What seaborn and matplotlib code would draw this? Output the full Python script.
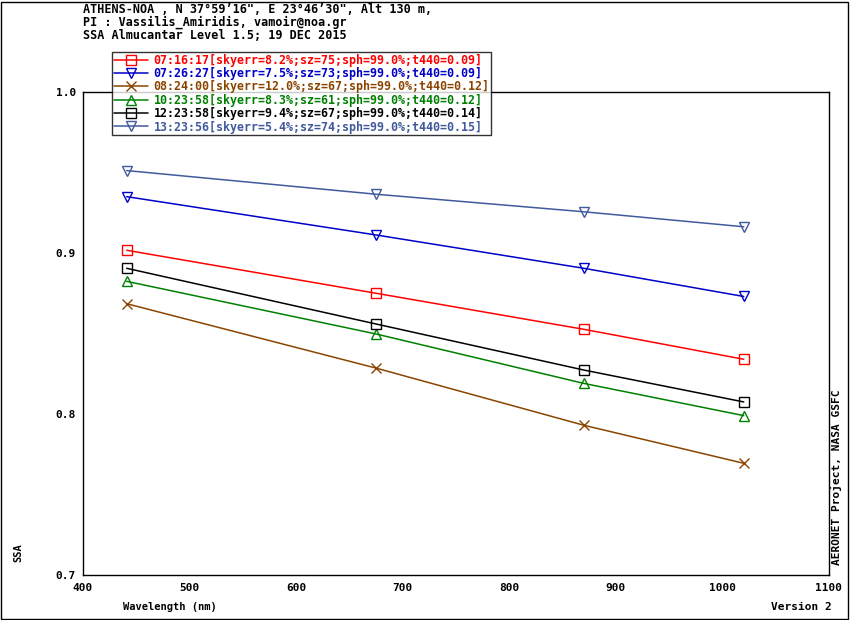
import pandas as pd
import matplotlib
matplotlib.use('Agg')
import matplotlib.pyplot as plt
from matplotlib.patches import Rectangle
import seaborn as sns

wavelengths = [441, 675, 870, 1020]

labels = [
    '07:16:17[skyerr=8.2%;sz=75;sph=99.0%;t440=0.09]',
    '07:26:27[skyerr=7.5%;sz=73;sph=99.0%;t440=0.09]',
    '08:24:00[skyerr=12.0%;sz=67;sph=99.0%;t440=0.12]',
    '10:23:58[skyerr=8.3%;sz=61;sph=99.0%;t440=0.12]',
    '12:23:58[skyerr=9.4%;sz=67;sph=99.0%;t440=0.14]',
    '13:23:56[skyerr=5.4%;sz=74;sph=99.0%;t440=0.15]',
]
ssa_0716 = [0.9017, 0.8750, 0.8526, 0.8340]
ssa_0726 = [0.9350, 0.9112, 0.8905, 0.8730]
ssa_0824 = [0.8685, 0.8285, 0.7930, 0.7694]
ssa_1023 = [0.8824, 0.8497, 0.8190, 0.7990]
ssa_1223 = [0.8905, 0.8559, 0.8273, 0.8075]
ssa_1323 = [0.9512, 0.9365, 0.9256, 0.9163]
series = [ssa_0716, ssa_0726, ssa_0824, ssa_1023, ssa_1223, ssa_1323]

colors = ['#ff0000', '#0000c8', '#8b4500', '#008000', '#000000', '#405a9c']
markers = ['s', 'v', 'x', '^', 's', 'v']

header = ['ATHENS-NOA , N 37\u00b059\u201916", E 23\u00b046\u201930", Alt 130 m,',
          'PI : Vassilis_Amiridis, vamoir@noa.gr',
          'SSA Almucantar Level 1.5; 19 DEC 2015']

sns.set_style('white')
plt.rcParams['font.family'] = ['DejaVu Sans Mono', 'DejaVu Sans']
plt.rcParams['font.weight'] = 'bold'
plt.rcParams['text.color'] = 'black'
plt.rcParams['xtick.color'] = 'black'
plt.rcParams['ytick.color'] = 'black'
plt.rcParams['axes.labelcolor'] = 'black'

fig = plt.figure(figsize=(8.5, 6.2), dpi=100)
ax = fig.add_axes([83/850, 1-575/620, (829-83)/850, (575-92)/620])

for lab, vals, c, m in zip(labels, series, colors, markers):
    df = pd.DataFrame({'Wavelength': wavelengths, 'SSA': vals})
    sns.lineplot(data=df, x='Wavelength', y='SSA', ax=ax, color=c, marker=m,
                 markersize=6.5, mfc='none', mec=c, mew=1,
                 linewidth=1.1, label=lab, legend=False)

ax.set_xlim(400, 1100)
ax.set_ylim(0.7, 1.0)
ax.set_xticks(range(400, 1101, 100))
ax.set_yticks([0.7, 0.8, 0.9, 1.0])
ax.set_yticklabels(['0.7', '0.8', '0.9', '1.0'])
ax.tick_params(axis='x', direction='in', length=9.5, width=1, labelsize=8, pad=6)
ax.tick_params(axis='y', direction='in', length=6, width=1, labelsize=8, pad=5)
for s in ax.spines.values():
    s.set_color('black')
    s.set_linewidth(1)
ax.set_xlabel('')
ax.set_ylabel('')

fig.text(123/850, 1-607/620, 'Wavelength (nm)', fontsize=7.5, va='center', ha='left')
fig.text(832/850, 1-607/620, 'Version 2', fontsize=8, va='center', ha='right')
fig.text(18/850, 1-553/620, 'SSA', fontsize=7.5, rotation=90, va='center', ha='center')
fig.text(836/850, 1-565/620, 'AERONET Project, NASA GSFC', fontsize=8, rotation=90,
         va='bottom', ha='center')

for i, line in enumerate(header):
    fig.text(83/850, 1-(9.5 + 13*i)/620, line, fontsize=8.5, va='center', ha='left')

handles = ax.get_lines()
leg = fig.legend(handles, labels, loc='upper left', bbox_to_anchor=(112/850, 1-52/620),
                 fontsize=8.4, frameon=True, fancybox=False, edgecolor='black',
                 handlelength=2.9, handletextpad=0.5, labelspacing=0.03,
                 borderpad=0.15, borderaxespad=0, markerscale=1.0)
leg.get_frame().set_linewidth(1)
for t, c in zip(leg.get_texts(), colors):
    t.set_color(c)

fig.add_artist(Rectangle((1/850, 1/620), 847/850, 617/620, transform=fig.transFigure,
                         fill=False, edgecolor='black', linewidth=1))

fig.savefig('out.png', dpi=100)
